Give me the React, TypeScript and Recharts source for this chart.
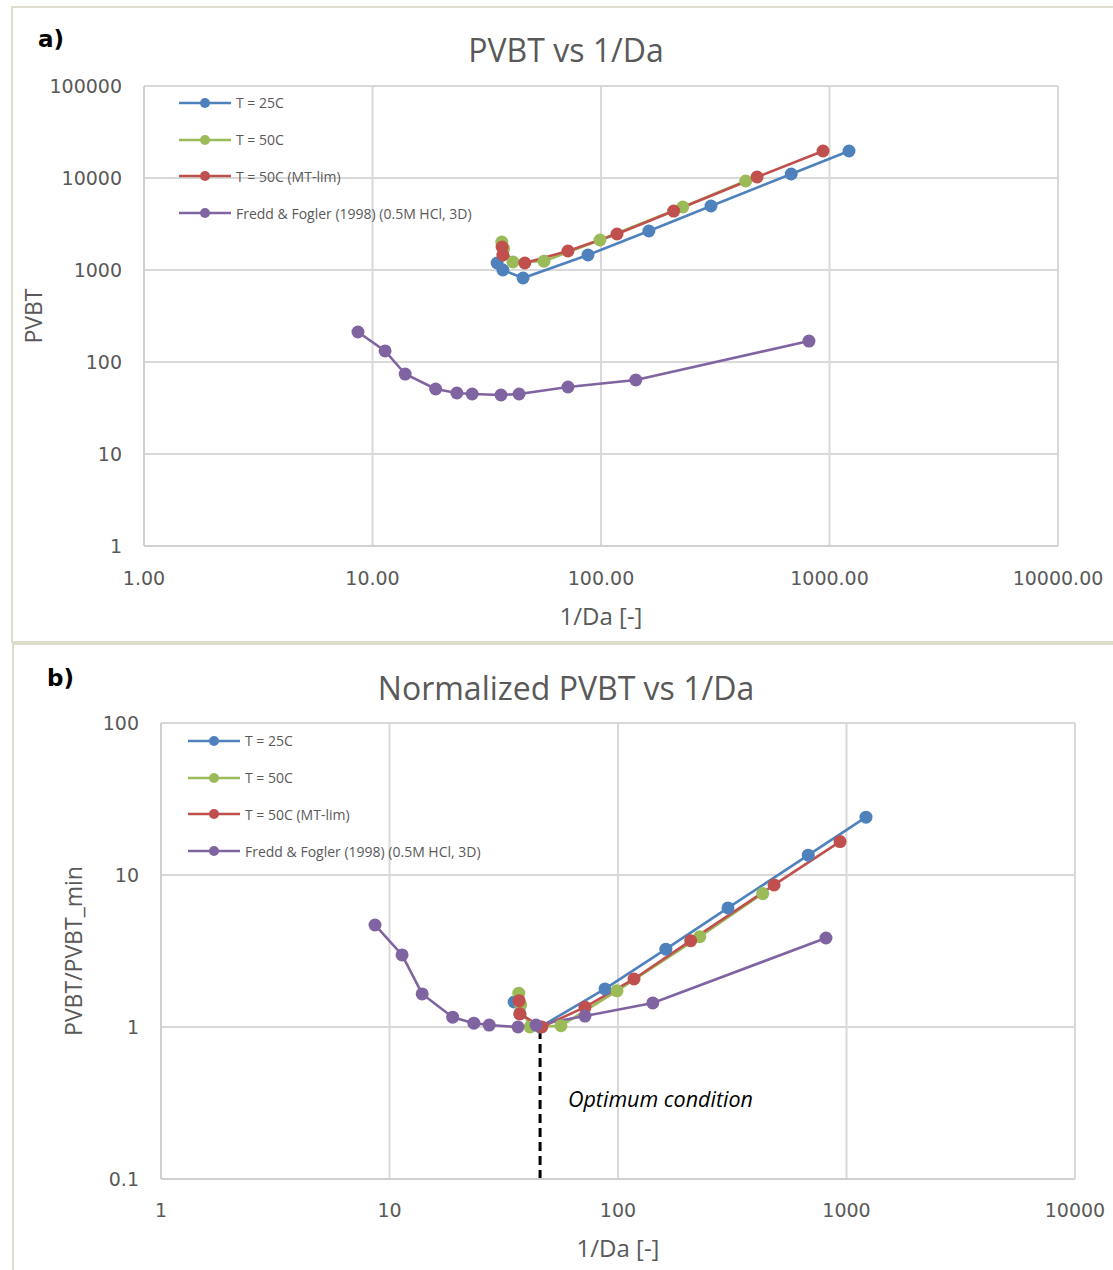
import React from "react";
import {
  LineChart,
  Line,
  XAxis,
  YAxis,
  CartesianGrid,
  Legend,
  ReferenceLine,
  ReferenceDot,
} from "recharts";

// 1/Da values for each series (same in both panels)
const xT25 = [35.1, 37.2, 45.6, 87.7, 162, 303, 680, 1217];
const xT50 = [36.8, 37.5, 41.2, 56.3, 99, 228, 430];
const xT50mt = [36.9, 37.2, 46.4, 71.7, 117.5, 208, 482, 937];
const xFredd = [8.64, 11.35, 13.9, 18.9, 23.4, 27.3, 36.5, 43.8, 71.7, 142, 813];

// panel a) PVBT
const pvbtT25 = [1191, 1000, 818, 1456, 2655, 4962, 11050, 19650];
const pvbtT50 = [2015, 1710, 1222, 1245, 2120, 4840, 9270];
const pvbtT50mt = [1778, 1456, 1191, 1610, 2462, 4375, 10250, 19650];
const pvbtFredd = [212, 132, 74, 50.9, 46, 44.9, 43.8, 44.9, 53.5, 63.7, 169];

// panel b) PVBT/PVBT_min
const normT25 = [1.46, 1.22, 1.0, 1.78, 3.25, 6.07, 13.5, 24.0];
const normT50 = [1.67, 1.4, 1.0, 1.02, 1.73, 3.93, 7.55];
const normT50mt = [1.49, 1.22, 1.0, 1.35, 2.07, 3.7, 8.6, 16.6];
const normFredd = [4.69, 2.98, 1.65, 1.16, 1.06, 1.03, 1.0, 1.03, 1.18, 1.44, 3.85];

const seriesNames = ["T = 25C", "T = 50C", "T = 50C (MT-lim)", "Fredd & Fogler (1998) (0.5M HCl, 3D)"];
const seriesColors = ["#4F81BD", "#9BBB59", "#C0504D", "#8064A2"];

const xTicks = [1, 10, 100, 1000, 10000];
const yTicksA = [1, 10, 100, 1000, 10000, 100000];
const yTicksB = [0.1, 1, 10, 100];
const optimumX = 45.6;

const zip = (xs: number[], ys: number[]) => xs.map((x, i) => ({ x, y: ys[i] }));

const dataA = [zip(xT25, pvbtT25), zip(xT50, pvbtT50), zip(xT50mt, pvbtT50mt), zip(xFredd, pvbtFredd)];
const dataB = [zip(xT25, normT25), zip(xT50, normT50), zip(xT50mt, normT50mt), zip(xFredd, normFredd)];

const gray = "#595959";
const tickStyle = { fill: gray, fontSize: 19, fontFamily: "DejaVu Sans" };

// keep legend in series order (recharts sorts by name otherwise)
const legendContent = (props: any) => {
  const items = [...(props.payload || [])].sort(
    (a: any, b: any) => seriesNames.indexOf(a.value) - seriesNames.indexOf(b.value)
  );
  return (
    <div style={{ fontFamily: "Open Sans", fontSize: 14, color: gray }}>
      {items.map((p: any) => (
        <div key={p.value} style={{ display: "flex", alignItems: "center", height: 36.7 }}>
          <svg width={52} height={12}>
            <line x1={0} y1={6} x2={52} y2={6} stroke={p.color} strokeWidth={2.5} />
            <circle cx={26} cy={6} r={5} fill={p.color} />
          </svg>
          <span style={{ marginLeft: 5, whiteSpace: "nowrap" }}>{p.value}</span>
        </div>
      ))}
    </div>
  );
};

const yLabel = (text: string, cx: number, cy: number) => () => (
  <text
    x={cx}
    y={cy}
    transform={`rotate(-90 ${cx} ${cy})`}
    textAnchor="middle"
    dominantBaseline="central"
    fill={gray}
    fontSize={23}
    fontFamily="Open Sans"
  >
    {text}
  </text>
);

const renderLines = (data: { x: number; y: number }[][]) =>
  data.map((d, i) => (
    <Line
      key={seriesNames[i]}
      data={d}
      dataKey="y"
      name={seriesNames[i]}
      type="linear"
      stroke={seriesColors[i]}
      strokeWidth={2.6}
      dot={{ r: 6.5, fill: seriesColors[i], stroke: seriesColors[i], strokeWidth: 0 }}
      activeDot={false}
      isAnimationActive={false}
    />
  ));

const titleStyle: React.CSSProperties = {
  position: "absolute",
  left: 0,
  width: 1132,
  textAlign: "center",
  fontFamily: "Open Sans",
  fontSize: 32,
  lineHeight: "32px",
  color: gray,
};

const letterStyle: React.CSSProperties = {
  position: "absolute",
  fontFamily: "DejaVu Sans",
  fontWeight: "bold",
  fontSize: 23,
  lineHeight: "23px",
  color: "#000",
};

export default function App() {
  return (
    <div style={{ position: "absolute", left: 0, top: 0, width: 1113, height: 1270, overflow: "hidden", background: "#fff" }}>
      {/* panel frames */}
      <div style={{ position: "absolute", left: 11, top: 6, width: 1120, height: 633, border: "2px solid #dedccb" }} />
      <div style={{ position: "absolute", left: 12, top: 643, width: 1120, height: 640, border: "2px solid #dedccb" }} />

      {/* a) */}
      <div style={{ position: "absolute", left: 0, top: 0 }}>
        <LineChart width={1113} height={641} margin={{ top: 86, right: 55, bottom: 0, left: 0 }}>
          <CartesianGrid stroke="#d9d9d9" strokeWidth={2} />
          <XAxis
            dataKey="x"
            type="number"
            scale="log"
            domain={[1, 10000]}
            ticks={xTicks}
            allowDataOverflow
            height={95}
            tickLine={false}
            tickMargin={20}
            tick={tickStyle}
            tickFormatter={(v: number) => v.toFixed(2)}
            axisLine={{ stroke: "#d0d0d0", strokeWidth: 2 }}
            label={{ value: "1/Da [-]", position: "insideBottom", offset: 16, fill: gray, fontSize: 24, fontFamily: "Open Sans" }}
          />
          <YAxis
            type="number"
            scale="log"
            domain={[1, 100000]}
            ticks={yTicksA}
            allowDataOverflow
            width={144}
            tickLine={false}
            tickMargin={16}
            tick={tickStyle}
            axisLine={{ stroke: "#d0d0d0", strokeWidth: 2 }}
            label={{ content: yLabel("PVBT", 33, 316) }}
          />
          <Legend
            layout="vertical"
            align="center"
            verticalAlign="middle"
            content={legendContent}
            wrapperStyle={{ left: 179, top: 84.6, width: "auto" }}
          />
          {renderLines(dataA)}
        </LineChart>
      </div>
      <div style={{ ...titleStyle, top: 34 }}>PVBT vs 1/Da</div>
      <div style={{ ...letterStyle, left: 38, top: 28 }}>a)</div>

      {/* b) */}
      <div style={{ position: "absolute", left: 0, top: 643 }}>
        <LineChart width={1113} height={627} margin={{ top: 80, right: 38, bottom: 0, left: 0 }}>
          <CartesianGrid stroke="#d9d9d9" strokeWidth={2} />
          <XAxis
            dataKey="x"
            type="number"
            scale="log"
            domain={[1, 10000]}
            ticks={xTicks}
            allowDataOverflow
            height={91}
            tickLine={false}
            tickMargin={19}
            tick={tickStyle}
            axisLine={{ stroke: "#d0d0d0", strokeWidth: 2 }}
            label={{ value: "1/Da [-]", position: "insideBottom", offset: 13, fill: gray, fontSize: 24, fontFamily: "Open Sans" }}
          />
          <YAxis
            type="number"
            scale="log"
            domain={[0.1, 100]}
            ticks={yTicksB}
            allowDataOverflow
            width={161}
            tickLine={false}
            tickMargin={16}
            tick={tickStyle}
            tickFormatter={(v: number) => String(v)}
            axisLine={{ stroke: "#d0d0d0", strokeWidth: 2 }}
            label={{ content: yLabel("PVBT/PVBT_min", 73, 308) }}
          />
          <Legend
            layout="vertical"
            align="center"
            verticalAlign="middle"
            content={legendContent}
            wrapperStyle={{ left: 188, top: 79.6, width: "auto" }}
          />
          <ReferenceLine
            segment={[
              { x: optimumX, y: 0.1 },
              { x: optimumX, y: 1 },
            ]}
            stroke="#000"
            strokeWidth={3}
            strokeDasharray="9 5"
          />
          <ReferenceDot
            x={60.4}
            y={0.336}
            r={0}
            fill="none"
            stroke="none"
            label={{ value: "Optimum condition", position: "right", offset: 0, fill: "#000", fontSize: 21.5, fontStyle: "italic", fontFamily: "Open Sans" }}
          />
          {renderLines(dataB)}
        </LineChart>
      </div>
      <div style={{ ...titleStyle, top: 672 }}>Normalized PVBT vs 1/Da</div>
      <div style={{ ...letterStyle, left: 47, top: 667 }}>b)</div>
    </div>
  );
}
